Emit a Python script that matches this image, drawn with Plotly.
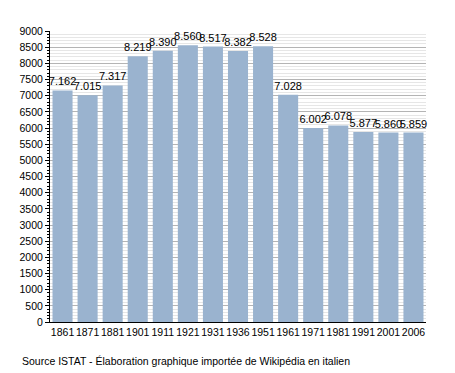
import plotly.graph_objects as go

years = ["1861", "1871", "1881", "1901", "1911", "1921", "1931", "1936", "1951",
         "1961", "1971", "1981", "1991", "2001", "2006"]
population = [7162, 7015, 7317, 8219, 8390, 8560, 8517, 8382, 8528,
              7028, 6002, 6078, 5877, 5860, 5859]
labels = [f"{v:,}".replace(",", ".") for v in population]
source_text = "Source ISTAT - Élaboration graphique importée de Wikipédia en italien"

fig = go.Figure(go.Bar(
    x=years, y=population, text=labels, textposition="outside",
    constraintext="none",
    textfont=dict(size=11, color="black"), cliponaxis=False,
    marker=dict(color="#9ab3cf", line=dict(width=0)),
))

fig.update_layout(
    width=447, height=365,
    margin=dict(l=42, r=29, t=23, b=51, autoexpand=False),
    paper_bgcolor="white", plot_bgcolor="white",
    font=dict(family="Liberation Sans, Arial, sans-serif", size=10, color="black"),
    bargap=0.2, showlegend=False,
    xaxis=dict(type="category", showline=True, linecolor="black", linewidth=1,
               ticks="", tickangle=0, tickfont=dict(size=10.5), automargin=False),
    yaxis=dict(range=[0, 9000], dtick=500, showline=True, linecolor="black",
               linewidth=1, ticks="outside", ticklen=4, tickcolor="black",
               gridcolor="#b4b4b4", gridwidth=1, zeroline=False,
               tickfont=dict(size=10.5), automargin=False,
               minor=dict(dtick=100, ticks="outside", ticklen=2, tickcolor="black",
                          showgrid=True, gridcolor="#e6e6e6", gridwidth=1)),
    annotations=[dict(text=source_text, xref="paper", yref="paper", x=-0.08, y=-0.135,
                      xanchor="left", yanchor="middle", showarrow=False,
                      font=dict(size=10.5, color="black"))],
)

fig.write_html("out.html")
